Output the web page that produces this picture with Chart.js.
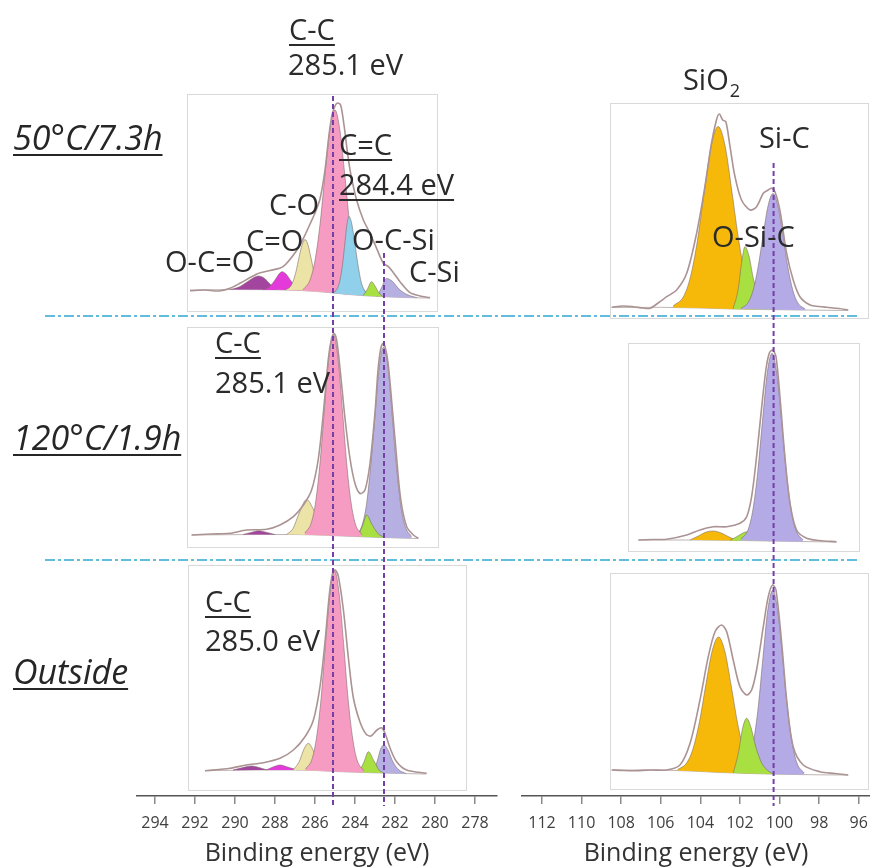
<!DOCTYPE html>
<html>
<head>
<meta charset="utf-8">
<script src="https://cdn.jsdelivr.net/npm/chart.js@4.4.1/dist/chart.umd.min.js"></script>
<style>
  html, body { margin: 0; padding: 0; background: #fff; }
  #wrap { position: relative; width: 870px; height: 868px; overflow: hidden; }
  #c1s { position: absolute; left: 0; top: 0; }
  #si { position: absolute; left: 505px; top: 0; }
</style>
</head>
<body>
<div id="wrap">
  <canvas id="c1s" width="505" height="868"></canvas>
  <canvas id="si" width="385" height="868"></canvas>
</div>
<script>
// ---- data: [binding energy (eV), intensity (a.u.)] ----
const rowLabels = ["50°C/7.3h", "120°C/1.9h", "Outside"];
const c1sTicks = [294, 292, 290, 288, 286, 284, 282, 280, 278];
const siTicks = [112, 110, 108, 106, 104, 102, 100, 98, 96];

// C1s, 50°C/7.3h
const c1s50Bg = [[292.25,8],[290,8.5],[288,8.2],[287,7.8],[286.3,7],[285.6,6],[285,4.8],[284.4,3.6],[283.6,2.4],[282.8,1.5],[282,0.8],[281,0.2],[280.25,0]];
const c1s50Env = [[292.25,7.3],[291.5,8],[290.8,7],[290.25,9.7],[289.75,14.7],[288.9,24],[288.25,27.5],[287.6,31.3],[286.9,48],[286.5,63],[286.25,74],[286.0,85],[285.75,99],[285.5,128],[285.3,163],[285.15,183],[285.0,192],[284.88,195],[284.72,193],[284.55,173],[284.38,146],[284.22,125],[283.92,98],[283.58,78],[283.25,64.7],[282.92,49.7],[282.58,34.7],[282.33,31.3],[282.08,25.3],[281.75,16.3],[281.25,5.3],[280.75,2],[280.25,0.3]];
const c1s50OCO = [[290.25,8.5],[289.8,11],[289.4,16],[289.1,20],[288.83,22],[288.55,20],[288.3,15],[288.1,11],[287.9,8.2]];
const c1s50CdO = [[288.6,8.2],[288.3,11],[288.0,18],[287.8,24],[287.65,26.3],[287.45,24],[287.2,17],[286.95,11],[286.6,7.5]];
const c1s50CO = [[287.48,8.2],[287.25,11],[287.1,16.5],[286.95,26.5],[286.8,40.5],[286.65,53],[286.5,58.5],[286.35,53],[286.2,40],[286.05,26],[285.9,16],[285.75,9.5],[285.52,6.5]];
const c1s50CC = [[286.6,8.3],[286.25,18],[286.0,37.5],[285.75,73.5],[285.5,123.5],[285.25,169.5],[285.0,188],[284.75,167],[284.5,121],[284.25,71],[284.0,35],[283.75,15],[283.4,4]];
const c1s50CdC = [[285.1,5],[284.9,9],[284.75,18],[284.62,34],[284.5,56],[284.4,74],[284.3,81.5],[284.17,75],[284.01,55],[283.85,33],[283.69,16],[283.53,7.9],[283.29,2.7]];
const c1s50OCSi = [[283.6,2.4],[283.4,8],[283.17,16.3],[283.0,12],[282.8,5],[282.6,1.4]];
const c1s50CSi = [[282.9,1.5],[282.68,10],[282.42,19.5],[282.15,17],[281.8,9],[281.4,3.5],[280.9,0.3]];

// C1s, 120°C/1.9h
const c1s120Bg = [[292.17,3.5],[289,4],[287,4],[286,3.6],[285,2.8],[284,2],[283,1.3],[282,0.6],[280.83,0]];
const c1s120Env = [[292.17,3.5],[291.2,4.5],[290.25,5.2],[289.42,8.5],[288.42,9.2],[287.75,13.5],[287.08,21.8],[286.58,33.5],[286.17,48.5],[285.83,80],[285.58,126],[285.33,180],[285.17,200],[285.05,205],[284.92,198.5],[284.75,170],[284.5,120],[284.25,80],[284.0,55],[283.75,45],[283.5,48.5],[283.25,75],[283.0,126],[282.85,168],[282.72,189],[282.6,195],[282.5,192],[282.35,176],[282.2,145],[281.95,88],[281.72,40],[281.42,12],[281.08,3.5],[280.83,0.2]];
const c1s120OCO = [[289.6,4],[289.2,6],[288.83,7.8],[288.4,6],[288.0,4]];
const c1s120CO = [[287.42,4],[287.1,10],[286.8,25],[286.42,39],[286.1,30],[285.75,14],[285.25,3.2]];
const c1s120CC = [[286.51,5.4],[286.18,16.1],[285.96,37.6],[285.74,77.4],[285.52,132],[285.3,182.6],[285.08,203.5],[284.86,182],[284.64,131],[284.42,76],[284.2,36.3],[283.98,14.5],[283.65,3.8]];
const c1s120OCSi = [[283.85,2],[283.6,14],[283.42,23.5],[283.15,14],[282.85,5],[282.5,1]];
const c1s120CSi = [[283.97,2.9],[283.65,13],[283.43,33.5],[283.22,71.5],[283.0,123.3],[282.79,171.5],[282.57,191.5],[282.35,171.3],[282.14,123],[281.92,71],[281.71,33],[281.49,12.3],[281.17,1.9]];

// C1s, Outside
const c1sOutBg = [[291.5,3.3],[289,4],[287,4],[286,3.5],[285,2.5],[284,1.8],[283,1.2],[282,0.6],[280.42,0]];
const c1sOutEnv = [[291.5,3.3],[290.8,4.5],[290.25,5.7],[289.42,9],[288.58,11.3],[287.75,15.7],[287.08,24],[286.5,37.3],[286.08,54],[285.75,87.3],[285.5,132],[285.28,180],[285.12,201],[285.0,204],[284.83,197.3],[284.58,164],[284.33,116],[284.08,76],[283.75,52],[283.45,40],[283.2,38],[282.9,44],[282.65,46],[282.45,38],[282.25,26],[281.92,12.3],[281.42,4],[280.42,0.7]];
const c1sOutOCO = [[290.1,4],[289.7,6],[289.17,8],[288.8,6.5],[288.4,4]];
const c1sOutCdO = [[288.45,4],[288.1,7],[287.75,9],[287.3,6.5],[286.85,4]];
const c1sOutCO = [[287.1,4],[286.8,12],[286.55,25],[286.33,30.7],[286.05,22],[285.75,9],[285.35,3]];
const c1sOutCC = [[286.48,4.8],[286.14,15.5],[285.92,37],[285.69,76.8],[285.47,131.4],[285.24,182],[285.02,203],[284.8,181.5],[284.57,130.5],[284.35,76],[284.12,36],[283.9,14.2],[283.56,3.4]];
const c1sOutOCSi = [[283.8,1.8],[283.55,12],[283.33,22.3],[283.05,13],[282.8,4],[282.55,1]];
const c1sOutCSi = [[283.1,1.2],[282.9,12],[282.72,25],[282.55,29],[282.35,24],[282.1,12],[281.8,4],[281.45,0.5]];

// Si2p, 50°C/7.3h
const si50Bg = [[108.48,3],[106,3.2],[104,2.5],[102.5,1.6],[101,1],[99,0.5],[96.53,0]];
const si50Env = [[108.48,3.2],[107.9,4.5],[107.39,3.8],[106.9,2.5],[106.54,2.2],[106.1,8],[105.7,13.8],[105.2,20.5],[104.69,37.2],[104.19,77.2],[103.77,123.8],[103.43,168],[103.18,191],[103.04,196.5],[102.87,190.5],[102.71,188.8],[102.5,163.8],[102.25,133.8],[101.92,110.5],[101.49,100.5],[101.16,103.8],[100.82,117.2],[100.57,120.5],[100.4,122.2],[100.23,118.8],[99.98,100],[99.64,57.2],[99.31,30.5],[98.97,13.8],[98.46,5.5],[98.0,4],[97.62,3.2],[97.0,2],[96.53,0.5]];
const si50SiO2 = [[105.38,4.5],[104.85,14],[104.5,33.6],[104.15,69.6],[103.8,119],[103.45,165],[103.1,184],[102.75,164.5],[102.4,118],[102.05,68.5],[101.7,32.4],[101.35,12.6],[100.82,2.7]];
const si50OSiC = [[102.35,1.6],[102.1,20],[101.9,50],[101.75,63.8],[101.55,55],[101.3,30],[100.9,10],[100.45,2],[100.15,1]];
const si50SiC = [[101.96,2],[101.58,8.2],[101.33,20.6],[101.08,43.7],[100.83,75.4],[100.58,104.7],[100.33,117],[100.08,104.6],[99.83,75.3],[99.58,43.5],[99.33,20.3],[99.08,7.8],[98.7,1.4]];

// Si2p, 120°C/1.9h
const si120Bg = [[107.13,2],[104,2],[102,1.5],[100.5,1],[99,0.5],[97.12,0]];
const si120Env = [[107.13,2],[106.4,2.5],[105.7,2.7],[104.69,7],[104.02,12],[103.35,15.3],[102.67,15.3],[102.0,18.7],[101.66,25.3],[101.41,45.3],[101.16,85.3],[100.9,135.3],[100.69,172],[100.52,188.7],[100.35,192],[100.18,185.3],[99.98,145.3],[99.73,85.3],[99.47,38.7],[99.14,12],[98.63,3.7],[98.0,1.5],[97.12,0.3]];
const si120SiO2 = [[104.52,2],[104.1,6],[103.7,10],[103.35,11],[102.95,9],[102.55,5],[102.17,1.6]];
const si120OSiC = [[102.5,1.6],[102.1,6],[101.8,9.5],[101.58,10.3],[101.3,8],[100.9,3],[100.48,1]];
const si120SiC = [[101.94,3],[101.58,12.8],[101.34,33],[101.1,70.3],[100.86,121.5],[100.62,169],[100.38,188.7],[100.14,169],[99.9,121.5],[99.66,70.3],[99.42,32.8],[99.18,12.2],[98.82,2.1]];

// Si2p, Outside
const siOutBg = [[108.48,5],[106,5],[104.5,4],[103,2.5],[101.5,1.5],[100,0.7],[98,0.2],[96.53,0]];
const siOutEnv = [[108.48,5],[107.9,4.5],[107.39,4.3],[106.5,5],[105.7,5],[105.03,10],[104.52,31.7],[104.02,75],[103.6,118.3],[103.26,143.3],[102.93,150],[102.67,143.3],[102.34,115],[102.0,88.3],[101.66,80],[101.41,85],[101.16,105],[100.82,148.3],[100.57,178.3],[100.35,190],[100.18,185],[99.89,131.7],[99.64,75],[99.31,28.3],[98.8,10],[97.96,3.3],[97.2,1.5],[96.53,0]];
const siOutSiO2 = [[105.16,5.2],[104.68,12.4],[104.36,26.9],[104.04,53.8],[103.72,90.7],[103.4,124.3],[103.08,138],[102.76,123.5],[102.44,89],[102.12,51.8],[101.8,24.6],[101.48,10],[101.0,2.3]];
const siOutOSiC = [[102.34,2],[102.1,20],[101.85,48],[101.66,56.7],[101.45,48],[101.2,28],[100.9,12],[100.5,3],[100.23,0.8]];
const siOutSiC = [[101.93,3],[101.56,13],[101.32,33],[101.07,69],[100.83,119],[100.59,165.5],[100.34,184.7],[100.1,165.3],[99.85,118.6],[99.61,68.5],[99.36,31.8],[99.12,11.9],[98.75,1.9]];

// peak positions marked by dashed lines (eV)
const c1sMarks = [285.1, 282.55];
const siMarks = [100.3];

// ---- styling / layout ----
const FONT = "'Open Sans', 'DejaVu Sans', sans-serif";
const peakColors = {
  "O-C=O": "#a3459f", "C=O": "#e43ad9", "C-O": "#ece3a6", "C-C": "#f69cc2",
  "C=C": "#90d0ea", "O-C-Si": "#a8e042", "C-Si": "#b6afe2",
  "SiO2": "#f6b90a", "O-Si-C": "#a8e042", "Si-C": "#b4aae6"
};
// vertical offset of each row (same units as the y axis: 0 = axis line)
const rowOffsetC1s = [498, 257.5, 22];
const rowOffsetSi = [485.5, 254, 21];

// peaks listed bottom-to-top in drawing order
const c1sPanels = [
  { bg: c1s50Bg, env: c1s50Env, peaks: [["O-C=O", c1s50OCO], ["C=O", c1s50CdO], ["C-O", c1s50CO], ["C-C", c1s50CC], ["C=C", c1s50CdC], ["C-Si", c1s50CSi], ["O-C-Si", c1s50OCSi]] },
  { bg: c1s120Bg, env: c1s120Env, peaks: [["O-C=O", c1s120OCO], ["C-O", c1s120CO], ["C-Si", c1s120CSi], ["O-C-Si", c1s120OCSi], ["C-C", c1s120CC]] },
  { bg: c1sOutBg, env: c1sOutEnv, peaks: [["O-C=O", c1sOutOCO], ["C=O", c1sOutCdO], ["C-O", c1sOutCO], ["C-Si", c1sOutCSi], ["O-C-Si", c1sOutOCSi], ["C-C", c1sOutCC]] }
];
const siPanels = [
  { bg: si50Bg, env: si50Env, peaks: [["SiO2", si50SiO2], ["O-Si-C", si50OSiC], ["Si-C", si50SiC]] },
  { bg: si120Bg, env: si120Env, peaks: [["SiO2", si120SiO2], ["O-Si-C", si120OSiC], ["Si-C", si120SiC]] },
  { bg: siOutBg, env: siOutEnv, peaks: [["SiO2", siOutSiO2], ["Si-C", siOutSiC], ["O-Si-C", siOutOSiC]] }
];

function buildDatasets(panels, offsets) {
  const sets = [];
  panels.forEach((p, r) => {
    const off = offsets[r];
    const pts = arr => arr.map(([e, v]) => ({ x: e, y: v + off }));
    const bgIndex = sets.length;
    sets.push({ data: pts(p.bg), borderColor: "rgba(140,120,120,0.55)", borderWidth: 1, pointRadius: 0, fill: false, order: 200 });
    p.peaks.forEach(([name, arr], k) => {
      sets.push({
        data: pts(arr), backgroundColor: peakColors[name], borderColor: "rgba(120,100,100,0.55)",
        borderWidth: 1, pointRadius: 0, fill: bgIndex, cubicInterpolationMode: "monotone", order: 100 - k
      });
    });
    sets.push({ data: pts(p.env), borderColor: "#ab9393", borderWidth: 1.6, pointRadius: 0, fill: false, tension: 0.3, order: 0 });
  });
  return sets;
}

function decorPlugin(cfg) {
  return {
    id: "decor",
    beforeDatasetsDraw(chart) {
      const { ctx, scales: { x, y } } = chart;
      ctx.save();
      cfg.boxes.forEach(b => {
        const l = Math.round(x.getPixelForValue(b[0])) + 0.5, r = Math.round(x.getPixelForValue(b[1])) + 0.5;
        const t = Math.round(y.getPixelForValue(b[2])) + 0.5, bt = Math.round(y.getPixelForValue(b[3])) + 0.5;
        ctx.fillStyle = "#fff";
        ctx.fillRect(l, t, r - l, bt - t);
        ctx.strokeStyle = "#d9d9d9";
        ctx.lineWidth = 1;
        ctx.strokeRect(l, t, r - l, bt - t);
      });
      ctx.restore();
    },
    afterDatasetsDraw(chart) {
      const { ctx, scales: { x, y } } = chart;
      ctx.save();
      // row separators
      ctx.strokeStyle = "#62bcdc";
      ctx.lineWidth = 2;
      ctx.setLineDash([10, 3, 3, 3]);
      cfg.separators.forEach(v => {
        const py = y.getPixelForValue(v);
        const x0 = cfg.sepFrom == null ? 0 : x.getPixelForValue(cfg.sepFrom);
        const x1 = cfg.sepTo == null ? chart.width : x.getPixelForValue(cfg.sepTo);
        ctx.beginPath(); ctx.moveTo(x0, py); ctx.lineTo(x1, py); ctx.stroke();
      });
      // peak position markers
      ctx.strokeStyle = "#7440a6";
      ctx.setLineDash([5, 3]);
      cfg.marks.forEach(m => {
        const px = x.getPixelForValue(m[0]);
        ctx.beginPath(); ctx.moveTo(px, y.getPixelForValue(m[1])); ctx.lineTo(px, y.getPixelForValue(m[2])); ctx.stroke();
      });
      ctx.setLineDash([]);
      // text labels
      ctx.textBaseline = "alphabetic";
      ctx.textAlign = "left";
      cfg.labels.forEach(lb => {
        const size = lb.size || 29;
        ctx.font = (lb.italic ? "italic " : "") + size + "px " + FONT;
        ctx.fillStyle = lb.color || "#2b2b2b";
        const px = x.getPixelForValue(lb.x), py = y.getPixelForValue(lb.y);
        let w;
        if (lb.sub) {
          ctx.fillText(lb.t, px, py);
          const w0 = ctx.measureText(lb.t).width;
          ctx.font = Math.round(size * 0.62) + "px " + FONT;
          ctx.fillText(lb.sub, px + w0 + 1, py + 7);
          w = w0 + ctx.measureText(lb.sub).width;
        } else {
          ctx.fillText(lb.t, px, py);
          w = ctx.measureText(lb.t).width;
        }
        if (lb.u) {
          ctx.strokeStyle = ctx.fillStyle;
          ctx.lineWidth = 2;
          ctx.beginPath(); ctx.moveTo(px, py + 5); ctx.lineTo(px + w, py + 5); ctx.stroke();
        }
      });
      ctx.restore();
    }
  };
}

function axisOptions(min, max, ticks) {
  return {
    type: "linear", reverse: true, min, max, bounds: "data",
    afterBuildTicks: s => { s.ticks = ticks.map(v => ({ value: v })); },
    afterFit: s => { s.height = 72; },
    grid: { drawOnChartArea: false, drawTicks: true, tickLength: 8, color: "#8a8a8a", lineWidth: 1.5 },
    border: { display: true, color: "#555", width: 1.5 },
    ticks: { color: "#404040", font: { family: FONT, size: 16, lineHeight: 1.2 }, padding: 10, maxRotation: 0, autoSkip: false, includeBounds: false },
    title: { display: true, text: "Binding energy (eV)", color: "#333", font: { family: FONT, size: 25, lineHeight: 1.1 }, padding: { top: 0, bottom: 0 } }
  };
}

function baseOptions(xAxis, pad) {
  return {
    responsive: false, animation: false, events: [],
    layout: { padding: pad },
    plugins: { legend: { display: false }, tooltip: { enabled: false } },
    scales: { x: xAxis, y: { display: false, min: 0, max: 796 } }
  };
}

new Chart(document.getElementById("c1s"), {
  type: "line",
  data: { datasets: buildDatasets(c1sPanels, rowOffsetC1s) },
  options: baseOptions(axisOptions(276.9, 294.9, c1sTicks), { left: 137, right: 8, top: 0, bottom: 0 }),
  plugins: [decorPlugin({
    boxes: [[292.4, 279.9, 702, 485], [292.4, 279.85, 469, 249], [292.35, 278.45, 231, 6]],
    separators: [480, 236], sepFrom: 299.5, sepTo: null,
    marks: [[c1sMarks[0], 700, -10], [c1sMarks[1], 543, -10]],
    labels: [
      { t: "C-C", x: 287.3, y: 756, u: true },
      { t: "285.1 eV", x: 287.35, y: 721 },
      { t: "C=C", x: 284.8, y: 641, u: true },
      { t: "284.4 eV", x: 284.8, y: 601, u: true },
      { t: "C-O", x: 288.3, y: 581 },
      { t: "C=O", x: 289.45, y: 545 },
      { t: "O-C=O", x: 293.5, y: 524 },
      { t: "O-C-Si", x: 284.15, y: 546 },
      { t: "C-Si", x: 281.3, y: 514 },
      { t: "C-C", x: 291.0, y: 443, u: true },
      { t: "285.1 eV", x: 291.0, y: 403 },
      { t: "C-C", x: 291.5, y: 184, u: true },
      { t: "285.0 eV", x: 291.5, y: 145 },
      { t: rowLabels[0], x: 301.1, y: 646, u: true, italic: true, size: 34, color: "#262626" },
      { t: rowLabels[1], x: 301.1, y: 346, u: true, italic: true, size: 34, color: "#262626" },
      { t: rowLabels[2], x: 301.1, y: 112, u: true, italic: true, size: 34, color: "#262626" }
    ]
  })]
});

new Chart(document.getElementById("si"), {
  type: "line",
  data: { datasets: buildDatasets(siPanels, rowOffsetSi) },
  options: baseOptions(axisOptions(95.43, 113.01, siTicks), { left: 17, right: 20, top: 0, bottom: 0 }),
  plugins: [decorPlugin({
    boxes: [[108.57, 95.54, 693, 478], [107.66, 95.99, 453, 245], [108.57, 95.54, 223, 7]],
    separators: [480, 236], sepFrom: null, sepTo: 95.94,
    marks: [[siMarks[0], 633, -10]],
    labels: [
      { t: "SiO", sub: "2", x: 104.88, y: 706 },
      { t: "Si-C", x: 101.04, y: 648 },
      { t: "O-Si-C", x: 103.41, y: 549 }
    ]
  })]
});
</script>
</body>
</html>
